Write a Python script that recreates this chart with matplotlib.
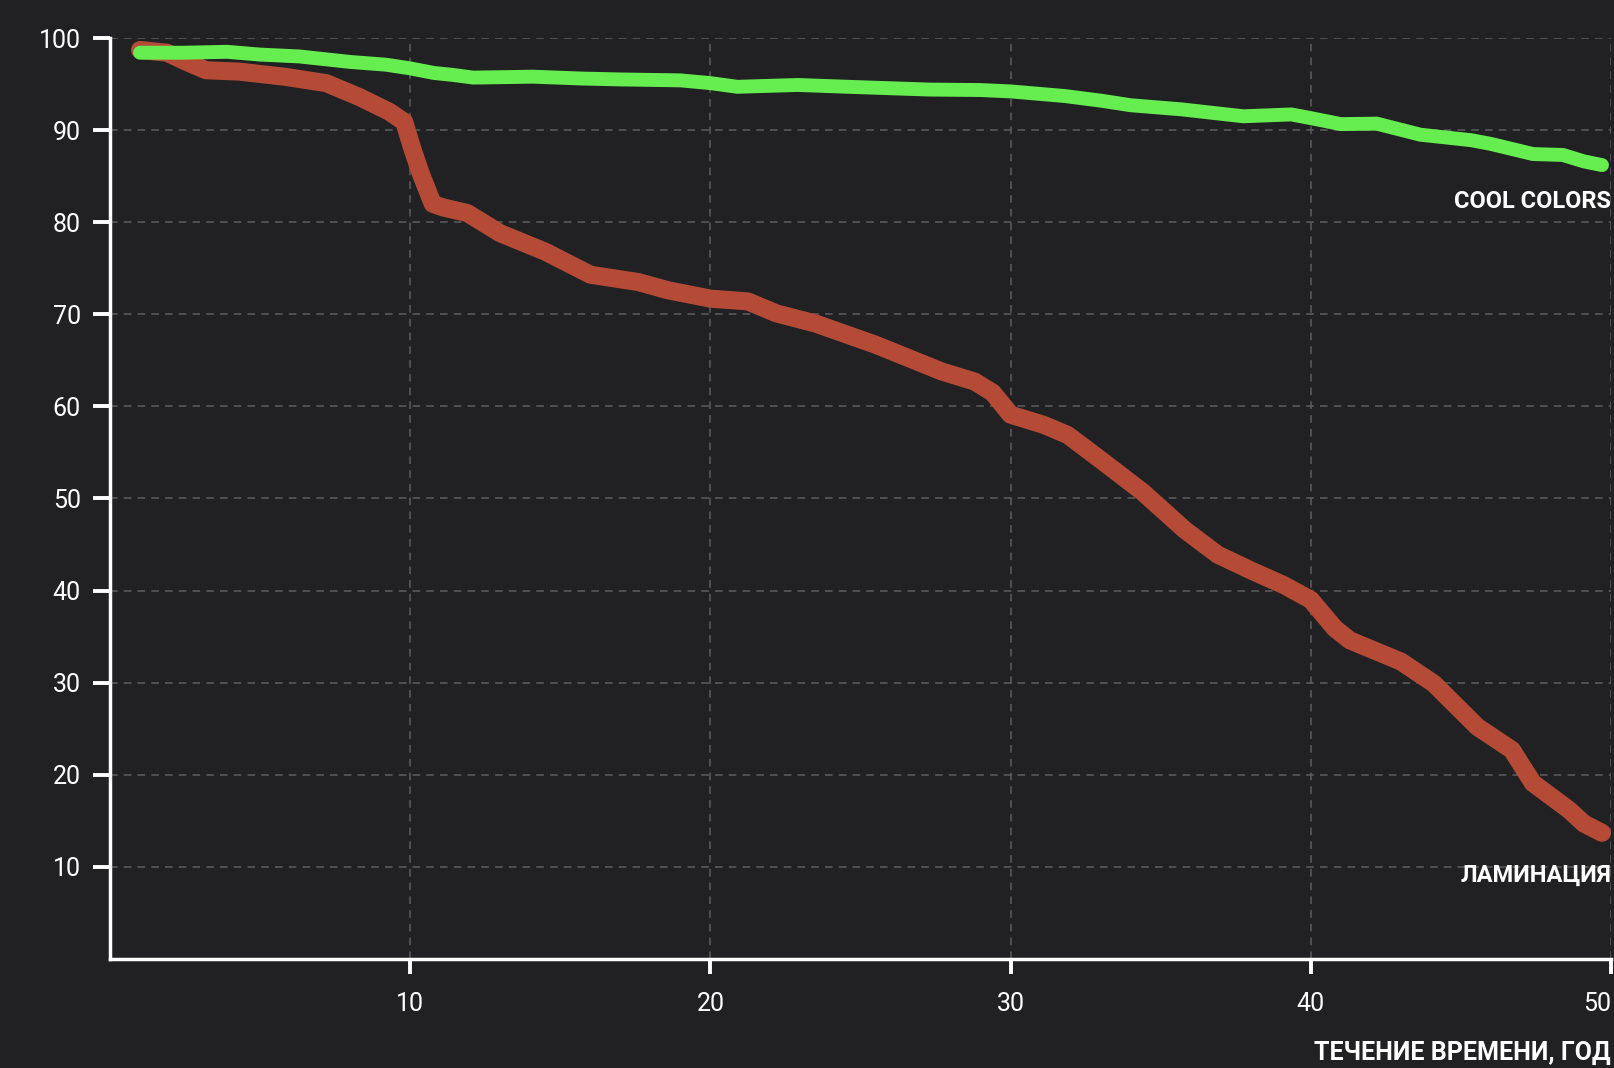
import matplotlib
matplotlib.use("Agg")
import matplotlib.pyplot as plt

# Cool Colors film
cool_x = [1.0, 2.4, 3.9, 5.0, 6.3, 8.0, 9.2, 10.0, 10.8, 11.4, 12.1, 14.1, 15.7, 17.0,
          19.0, 20.0, 20.9, 22.9, 24.6, 27.3, 29.0, 30.0, 31.8, 33.0, 34.0, 35.7, 37.75,
          39.35, 40.0, 41.0, 42.2, 43.65, 45.35, 46.0, 47.4, 48.4, 49.1, 49.7]
cool_y = [98.4, 98.4, 98.5, 98.2, 98.0, 97.4, 97.1, 96.7, 96.2, 96.0, 95.7, 95.8, 95.6, 95.5,
          95.4, 95.1, 94.7, 94.9, 94.7, 94.4, 94.35, 94.2, 93.7, 93.2, 92.7, 92.25, 91.5,
          91.7, 91.3, 90.65, 90.7, 89.5, 88.9, 88.5, 87.4, 87.3, 86.6, 86.2]

# lamination
lam_x = [1.0, 1.9, 2.55, 3.2, 4.3, 5.8, 7.2, 8.3, 9.3, 9.8, 10.05, 10.35, 10.75, 11.1,
         11.9, 13.0, 14.5, 16.0, 17.6, 18.6, 20.0, 21.25, 22.2, 23.5, 25.5, 27.7, 28.8,
         29.4, 30.0, 31.1, 31.9, 33.0, 34.4, 35.8, 36.9, 38.0, 39.1, 40.0, 40.8, 41.3,
         43.0, 44.1, 45.55, 46.7, 47.4, 48.6, 49.1, 49.7]
lam_y = [98.7, 98.4, 97.4, 96.5, 96.35, 95.8, 95.1, 93.6, 92.0, 90.9, 88.2, 85.3, 82.0, 81.6,
         81.0, 78.8, 76.8, 74.3, 73.5, 72.6, 71.7, 71.4, 70.1, 69.0, 66.7, 63.8, 62.7,
         61.5, 59.1, 58.0, 56.9, 54.2, 50.7, 46.6, 43.9, 42.2, 40.6, 39.0, 35.9, 34.6,
         32.3, 29.9, 25.2, 22.7, 19.1, 16.2, 14.7, 13.7]

x_ticks = [10, 20, 30, 40, 50]
y_ticks = [10, 20, 30, 40, 50, 60, 70, 80, 90, 100]

bg = "#212123"
plt.rcParams['font.family'] = ['Roboto', 'DejaVu Sans']

fig = plt.figure(figsize=(16.14, 10.68), dpi=100, facecolor=bg)
ax = fig.add_axes([110 / 1614, 1 - 959 / 1068, 1501 / 1614, 921 / 1068])
ax.set_facecolor(bg)

ax.plot(lam_x, lam_y, color="#b54b36", linewidth=13, solid_capstyle="round",
        solid_joinstyle="round", zorder=3)
ax.plot(cool_x, cool_y, color="#66ee50", linewidth=10, solid_capstyle="round",
        solid_joinstyle="round", zorder=4)

ax.set_xlim(0, 50)
ax.set_ylim(0, 100)
ax.set_xticks(x_ticks)
ax.set_yticks(y_ticks)

ax.grid(True, color="#5e5e5e", linestyle=(0, (5, 4)), linewidth=1.1, zorder=1)
ax.set_axisbelow(True)

for side in ["top", "right"]:
    ax.spines[side].set_visible(False)
for side in ["left", "bottom"]:
    ax.spines[side].set_color("white")
    ax.spines[side].set_linewidth(2.5)
    ax.spines[side].set_capstyle("projecting")

ax.tick_params(axis="y", colors="white", length=12, width=2.8, pad=9, labelsize=18)
ax.tick_params(axis="x", colors="white", length=11, width=2.8, pad=13, labelsize=18)
# last x label sits flush with the right edge
ax.get_xticklabels()[-1].set_horizontalalignment("right")

ax.text(50, 82.2, "COOL COLORS", color="white", fontsize=17, fontweight="bold",
        ha="right", va="center")
ax.text(50, 9.1, "ЛАМИНАЦИЯ", color="white", fontsize=17, fontweight="bold",
        ha="right", va="center")
fig.text(1611 / 1614, 1 - 1053 / 1068, "ТЕЧЕНИЕ ВРЕМЕНИ, ГОД", color="white",
         fontsize=18, fontweight="bold", ha="right", va="center")

fig.savefig("out.png", dpi=100, facecolor=bg)
